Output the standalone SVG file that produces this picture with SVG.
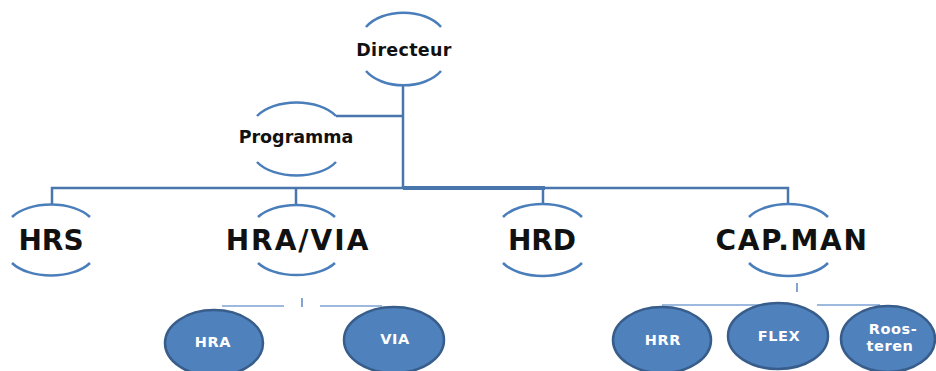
<svg xmlns="http://www.w3.org/2000/svg" width="936" height="371" viewBox="0 0 936 371">
<defs>
<style>
.arc{fill:none;stroke:#4A7EBB;stroke-width:2.5}
.conn{fill:none;stroke:#4A76AE;stroke-width:2.5}
.thick{stroke-width:4}
.thin{fill:none;stroke:#7FA3D3;stroke-width:1.3}
.tick{fill:none;stroke:#5B87C0;stroke-width:1.5}
.ell{fill:#4F81BD;stroke:#385D8A;stroke-width:2.5}
.t1{font-family:"DejaVu Sans",sans-serif;font-weight:bold;font-size:17.5px;fill:#111;text-anchor:middle}
.t2{font-family:"DejaVu Sans",sans-serif;font-weight:bold;font-size:28px;fill:#111;text-anchor:middle}
.t3{font-family:"DejaVu Sans",sans-serif;font-weight:bold;font-size:14.5px;fill:#fff;text-anchor:middle;letter-spacing:0.6px}
</style>
</defs>
<rect width="936" height="371" fill="#fff"/>
<g id="connectors">
<path class="conn" d="M403 86V188"/>
<path class="conn" d="M336 116H403"/>
<path class="conn" d="M52 205V188H403"/>
<path class="conn thick" d="M403 188H545"/>
<path class="conn" d="M545 188H788V205"/>
<path class="conn" d="M296 188V205"/>
<path class="conn" d="M543 188V205"/>
<path class="tick" d="M302 298V307"/>
<path class="thin" d="M222 306H284M320 306H382"/>
<path class="tick" d="M797 283V292"/>
<path class="thin" d="M662 305H780M817 305H880"/>
</g>
<g id="directeur">
<path class="arc" d="M366 27A43 28 0 0 1 441 27"/>
<path class="arc" d="M366 71A43 28 0 0 0 441 71"/>
<text class="t1" x="404" y="56" letter-spacing="0.3">Directeur</text>
</g>
<g id="programma">
<path class="arc" d="M257 116A45 26 0 0 1 336 116"/>
<path class="arc" d="M257 162A45 26 0 0 0 336 162"/>
<text class="t1" x="296" y="143" font-size="17">Programma</text>
</g>
<g id="hrs">
<path class="arc" d="M12 217A45 25 0 0 1 90 217"/>
<path class="arc" d="M12 263A45 25 0 0 0 90 263"/>
<text class="t2" x="51" y="250">HRS</text>
</g>
<g id="hravia">
<path class="arc" d="M258 217A45 25 0 0 1 335 217"/>
<path class="arc" d="M258 263A45 25 0 0 0 335 263"/>
<text class="t2" x="298" y="250" letter-spacing="2">HRA/VIA</text>
</g>
<g id="hrd">
<path class="arc" d="M503 217A45 25 0 0 1 582 217"/>
<path class="arc" d="M503 263A45 25 0 0 0 582 263"/>
<text class="t2" x="542" y="250">HRD</text>
</g>
<g id="capman">
<path class="arc" d="M749 217A45 25 0 0 1 828 217"/>
<path class="arc" d="M749 263A45 25 0 0 0 828 263"/>
<text class="t2" x="792" y="250" letter-spacing="1.7">CAP.MAN</text>
</g>
<g id="hra">
<ellipse class="ell" cx="214" cy="343" rx="49" ry="33"/>
<text class="t3" x="213" y="347">HRA</text>
</g>
<g id="via">
<ellipse class="ell" cx="394" cy="340" rx="50" ry="33"/>
<text class="t3" x="395" y="344">VIA</text>
</g>
<g id="hrr">
<ellipse class="ell" cx="662" cy="340" rx="49" ry="33"/>
<text class="t3" x="663" y="345">HRR</text>
</g>
<g id="flex">
<ellipse class="ell" cx="778" cy="336" rx="50" ry="33"/>
<text class="t3" x="779" y="341">FLEX</text>
</g>
<g id="roosteren">
<ellipse class="ell" cx="888" cy="339" rx="47" ry="33"/>
<text class="t3" x="893" y="334">Roos-</text>
<text class="t3" x="890" y="351">teren</text>
</g>
</svg>
